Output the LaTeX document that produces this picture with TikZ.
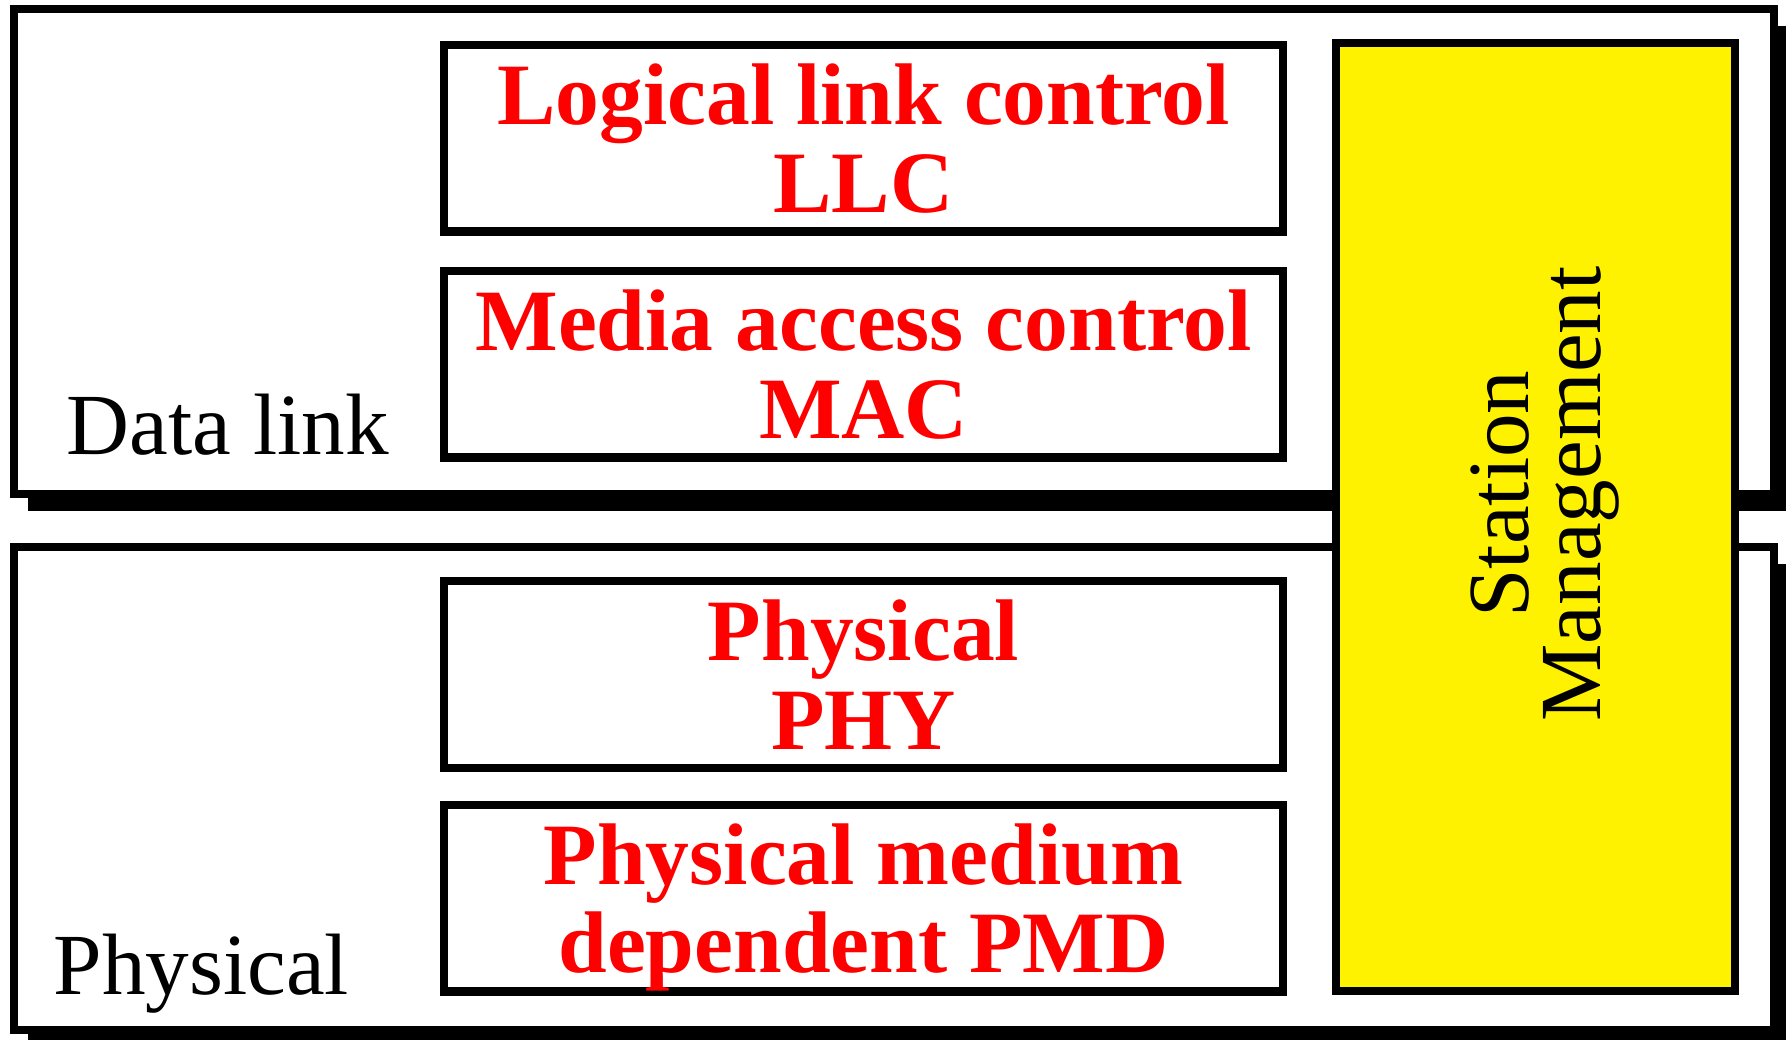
\documentclass[tikz,border=0pt]{standalone}
\usepackage{fontspec}
\setmainfont{Liberation Serif}
\usepackage{tikz}
\usetikzlibrary{positioning,shadows}

\begin{document}
\begin{tikzpicture}[node distance=0.4cm, auto]
\tikzset{
    %styl pola
    pole/.style={
           rectangle, line width=2.4pt,
           draw=black, fill=white,
           inner sep=0pt, outer sep=0pt,
           minimum width=17.6cm,
           drop shadow={shadow xshift=0.14cm, shadow yshift=-0.17cm,
                        fill=black, opacity=1}},
    %styl NODa
    punkt/.style={
           rectangle, line width=2.4pt,
           draw=black, fill=white,
           inner sep=0pt, outer sep=0pt,
           minimum width=8.39cm,
           minimum height=1.865cm,
           text depth=0pt, align=center, text=red,
           font=\fontsize{24.9}{25.2}\selectfont\bfseries},
    %styl opisu
    opis/.style={
           anchor=base west, inner sep=0pt,
           font=\fontsize{24.8}{25}\selectfont}
}
\useasboundingbox (0,0) rectangle (17.86,-10.40);
%\draw[help lines,lightgray] grid (18,-11);
%Pola
\draw node[pole, minimum height=4.85cm] (pole1) at (8.94,-2.515) {};
\draw node[pole, minimum height=4.83cm] (pole2) at (8.94,-7.885) {};

%NODy
\node(llc) [punkt] at (8.635,-1.3825)     {Logical link control\\LLC};
\node(mac) [punkt,below=0.395cm of llc]   {Media access control\\MAC};
\node(phy) [punkt,minimum height=1.87cm] at (8.635,-6.745) {Physical\\PHY};
\node(pmd) [punkt,below=0.37cm of phy]    {Physical medium\\dependent PMD};

%Zarzadzanie
\draw node[rectangle, line width=2.4pt, draw=black, fill=yellow,
           inner sep=0pt, outer sep=0pt,
           minimum width=3.99cm, minimum height=9.475cm] (stacja) at (15.355,-5.17) {};
\node[rotate=90, align=center, inner sep=0pt,
      font=\fontsize{24.8}{20.5}\selectfont] (zarz) at (15.45,-4.94) {Station\\Management};

%Opisy
\node[opis] (lacze) at (0.66,-4.55) {Data link};
\node[opis] (fiz)   at (0.53,-9.95) {Physical};
\end{tikzpicture}
\end{document}
